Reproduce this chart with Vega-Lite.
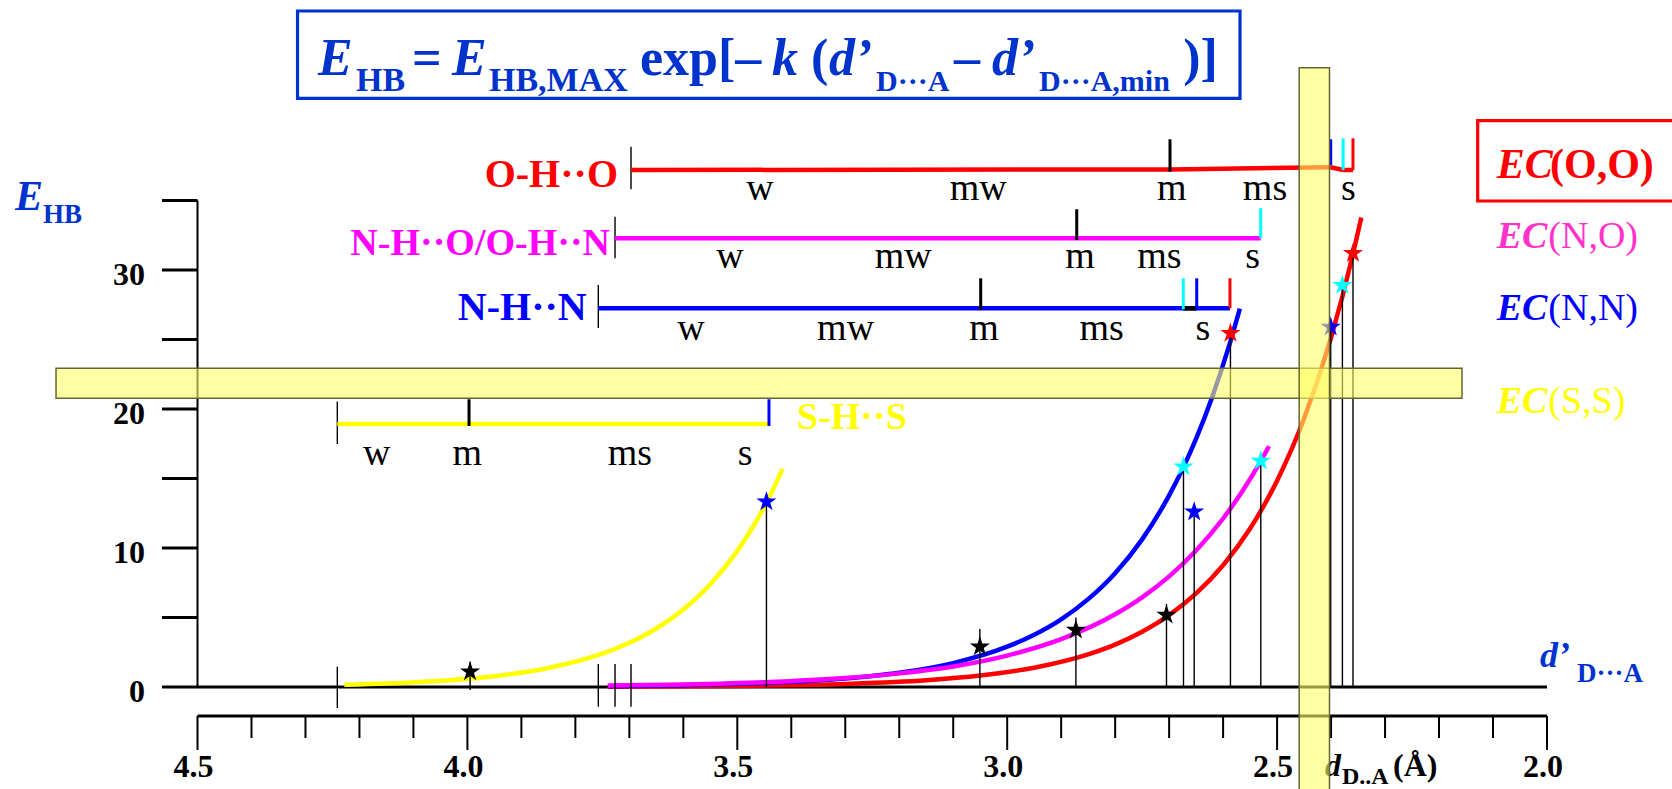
{
  "$schema": "https://vega.github.io/schema/vega-lite/v6.json",
  "width": 1672,
  "height": 789,
  "autosize": {"type": "none"},
  "padding": 0,
  "background": "white",
  "config": {"view": {"stroke": null}, "text": {"font": "'Liberation Serif', 'Times New Roman', 'DejaVu Serif', serif"}},
  "datasets": {
    "curves": [
      {"g":"SS","d":4.228,"e":0.16},{"g":"SS","d":4.15,"e":0.25},{"g":"SS","d":4.05,"e":0.45},{"g":"SS","d":3.95,"e":0.78},{"g":"SS","d":3.85,"e":1.37},{"g":"SS","d":3.75,"e":2.40},{"g":"SS","d":3.70,"e":3.18},{"g":"SS","d":3.65,"e":4.21},{"g":"SS","d":3.60,"e":5.58},{"g":"SS","d":3.55,"e":7.39},{"g":"SS","d":3.50,"e":9.79},{"g":"SS","d":3.47,"e":11.58},{"g":"SS","d":3.445,"e":13.33},{"g":"SS","d":3.416,"e":15.69},
      {"g":"OO","d":3.74,"e":0.02},{"g":"OO","d":3.50,"e":0.08},{"g":"OO","d":3.30,"e":0.22},{"g":"OO","d":3.15,"e":0.48},{"g":"OO","d":3.05,"e":0.82},{"g":"OO","d":2.95,"e":1.39},{"g":"OO","d":2.85,"e":2.35},{"g":"OO","d":2.80,"e":3.05},{"g":"OO","d":2.75,"e":3.97},{"g":"OO","d":2.70,"e":5.17},{"g":"OO","d":2.65,"e":6.73},{"g":"OO","d":2.60,"e":8.76},{"g":"OO","d":2.55,"e":11.40},{"g":"OO","d":2.50,"e":14.84},{"g":"OO","d":2.45,"e":19.31},{"g":"OO","d":2.40,"e":25.14},{"g":"OO","d":2.359,"e":31.2},{"g":"OO","d":2.344,"e":33.77},
      {"g":"NN","d":3.739,"e":0.06},{"g":"NN","d":3.60,"e":0.13},{"g":"NN","d":3.45,"e":0.28},{"g":"NN","d":3.30,"e":0.61},{"g":"NN","d":3.20,"e":1.02},{"g":"NN","d":3.10,"e":1.72},{"g":"NN","d":3.00,"e":2.90},{"g":"NN","d":2.95,"e":3.76},{"g":"NN","d":2.90,"e":4.87},{"g":"NN","d":2.85,"e":6.32},{"g":"NN","d":2.80,"e":8.19},{"g":"NN","d":2.75,"e":10.62},{"g":"NN","d":2.70,"e":13.78},{"g":"NN","d":2.673,"e":15.85},{"g":"NN","d":2.65,"e":17.86},{"g":"NN","d":2.62,"e":20.88},{"g":"NN","d":2.59,"e":24.41},{"g":"NN","d":2.569,"e":27.22},
      {"g":"NO","d":3.74,"e":0.10},{"g":"NO","d":3.60,"e":0.18},{"g":"NO","d":3.45,"e":0.34},{"g":"NO","d":3.30,"e":0.64},{"g":"NO","d":3.20,"e":0.98},{"g":"NO","d":3.10,"e":1.48},{"g":"NO","d":3.00,"e":2.26},{"g":"NO","d":2.90,"e":3.44},{"g":"NO","d":2.80,"e":5.23},{"g":"NO","d":2.75,"e":6.45},{"g":"NO","d":2.70,"e":7.96},{"g":"NO","d":2.65,"e":9.82},{"g":"NO","d":2.60,"e":12.12},{"g":"NO","d":2.565,"e":14.04},{"g":"NO","d":2.53,"e":16.26},{"g":"NO","d":2.515,"e":17.32}
    ],
    "stars": [
      {"g":"X","d":3.995,"e":1.10},{"g":"NN","d":3.446,"e":13.33},{"g":"X","d":3.0506,"e":2.90},{"g":"X","d":2.8727,"e":4.10},{"g":"X","d":2.7049,"e":5.18},{"g":"C","d":2.6734,"e":15.85},{"g":"NN","d":2.6536,"e":12.6},{"g":"OO","d":2.5864,"e":25.45},{"g":"C","d":2.5302,"e":16.26},{"g":"NN","d":2.4007,"e":25.9},{"g":"C","d":2.379,"e":28.9},{"g":"OO","d":2.3594,"e":31.2}
    ],
    "thinRules": [
      {"g":"X","d":3.995,"e":-0.22,"d2":3.995,"e2":1.82},
      {"g":"X","d":3.446,"e":0,"d2":3.446,"e2":13.33},
      {"g":"X","d":3.0506,"e":0,"d2":3.0506,"e2":4.17},
      {"g":"X","d":2.8727,"e":0,"d2":2.8727,"e2":5.0},
      {"g":"X","d":2.7049,"e":0,"d2":2.7049,"e2":5.97},
      {"g":"X","d":2.6734,"e":0,"d2":2.6734,"e2":15.85},
      {"g":"X","d":2.6536,"e":0,"d2":2.6536,"e2":12.6},
      {"g":"X","d":2.5864,"e":0,"d2":2.5864,"e2":25.45},
      {"g":"X","d":2.5302,"e":0,"d2":2.5302,"e2":16.26},
      {"g":"X","d":2.4007,"e":0,"d2":2.4007,"e2":25.9},
      {"g":"X","d":2.379,"e":0,"d2":2.379,"e2":28.9},
      {"g":"X","d":2.3594,"e":0,"d2":2.3594,"e2":31.2},
      {"g":"X","d":4.241,"e":-1.51,"d2":4.241,"e2":1.46},
      {"g":"X","d":3.7575,"e":-1.42,"d2":3.7575,"e2":1.65},
      {"g":"X","d":3.7265,"e":-1.42,"d2":3.7265,"e2":1.65},
      {"g":"X","d":3.6969,"e":-1.42,"d2":3.6969,"e2":1.65},
      {"g":"X","d":3.6969,"e":35.81,"d2":3.6969,"e2":38.87},
      {"g":"X","d":3.7265,"e":30.84,"d2":3.7265,"e2":33.83},
      {"g":"X","d":3.7575,"e":25.83,"d2":3.7575,"e2":28.92},
      {"g":"X","d":4.241,"e":17.48,"d2":4.241,"e2":20.53}
    ],
    "barLines": [
      {"g":"OO","d":3.6969,"e":37.19,"d2":2.6984,"e2":37.23},
      {"g":"OO","d":2.6984,"e":37.23,"d2":2.4007,"e2":37.39},
      {"g":"OO","d":2.4007,"e":37.39,"d2":2.3777,"e2":37.19},
      {"g":"OO","d":2.3777,"e":37.19,"d2":2.3594,"e2":37.19},
      {"g":"NO","d":3.7265,"e":32.28,"d2":2.5304,"e2":32.28},
      {"g":"NN","d":3.7575,"e":27.24,"d2":2.5873,"e2":27.24},
      {"g":"X","d":2.6738,"e":27.24,"d2":2.6489,"e2":27.24},
      {"g":"SS","d":4.241,"e":18.92,"d2":3.4413,"e2":18.92}
    ],
    "tickRules": [
      {"g":"X","d":2.6984,"e":37.07,"d2":2.6984,"e2":39.40},
      {"g":"NN","d":2.4007,"e":37.55,"d2":2.4007,"e2":39.40},
      {"g":"C","d":2.3777,"e":37.19,"d2":2.3777,"e2":39.47},
      {"g":"OO","d":2.3594,"e":37.19,"d2":2.3594,"e2":39.47},
      {"g":"X","d":2.8712,"e":32.16,"d2":2.8712,"e2":34.37},
      {"g":"C","d":2.5304,"e":32.28,"d2":2.5304,"e2":34.44},
      {"g":"X","d":3.0491,"e":27.12,"d2":3.0491,"e2":29.40},
      {"g":"C","d":2.6738,"e":27.17,"d2":2.6738,"e2":29.40},
      {"g":"NN","d":2.6489,"e":27.17,"d2":2.6489,"e2":29.40},
      {"g":"OO","d":2.5873,"e":27.24,"d2":2.5873,"e2":29.40},
      {"g":"X","d":3.997,"e":18.78,"d2":3.997,"e2":20.70},
      {"g":"NN","d":3.4413,"e":18.78,"d2":3.4413,"e2":20.70}
    ],
    "axisThick": [
      {"g":"X","d":4.5658,"e":0,"d2":2.0,"e2":0},
      {"g":"X","d":4.5,"e":-2.086,"d2":2.0,"e2":-2.086},
      {"g":"X","d":4.5658,"e":5,"d2":4.5,"e2":5},
      {"g":"X","d":4.5658,"e":10,"d2":4.5,"e2":10},
      {"g":"X","d":4.5658,"e":15,"d2":4.5,"e2":15},
      {"g":"X","d":4.5658,"e":20,"d2":4.5,"e2":20},
      {"g":"X","d":4.5658,"e":25,"d2":4.5,"e2":25},
      {"g":"X","d":4.5658,"e":30,"d2":4.5,"e2":30},
      {"g":"X","d":4.5658,"e":35,"d2":4.5,"e2":35}
    ],
    "axisThin": [
      {"g":"X","d":4.5,"e":0,"d2":4.5,"e2":35},
      {"g":"X","d":4.5,"e":-2.086,"d2":4.5,"e2":-4.53},
      {"g":"X","d":4.0,"e":-2.086,"d2":4.0,"e2":-4.53},
      {"g":"X","d":3.5,"e":-2.086,"d2":3.5,"e2":-4.53},
      {"g":"X","d":3.0,"e":-2.086,"d2":3.0,"e2":-4.53},
      {"g":"X","d":2.5,"e":-2.086,"d2":2.5,"e2":-4.53},
      {"g":"X","d":2.0,"e":-2.086,"d2":2.0,"e2":-4.53},
      {"g":"X","d":4.4,"e":-2.086,"d2":4.4,"e2":-3.67},
      {"g":"X","d":4.3,"e":-2.086,"d2":4.3,"e2":-3.67},
      {"g":"X","d":4.2,"e":-2.086,"d2":4.2,"e2":-3.67},
      {"g":"X","d":4.1,"e":-2.086,"d2":4.1,"e2":-3.67},
      {"g":"X","d":3.9,"e":-2.086,"d2":3.9,"e2":-3.67},
      {"g":"X","d":3.8,"e":-2.086,"d2":3.8,"e2":-3.67},
      {"g":"X","d":3.7,"e":-2.086,"d2":3.7,"e2":-3.67},
      {"g":"X","d":3.6,"e":-2.086,"d2":3.6,"e2":-3.67},
      {"g":"X","d":3.4,"e":-2.086,"d2":3.4,"e2":-3.67},
      {"g":"X","d":3.3,"e":-2.086,"d2":3.3,"e2":-3.67},
      {"g":"X","d":3.2,"e":-2.086,"d2":3.2,"e2":-3.67},
      {"g":"X","d":3.1,"e":-2.086,"d2":3.1,"e2":-3.67},
      {"g":"X","d":2.9,"e":-2.086,"d2":2.9,"e2":-3.67},
      {"g":"X","d":2.8,"e":-2.086,"d2":2.8,"e2":-3.67},
      {"g":"X","d":2.7,"e":-2.086,"d2":2.7,"e2":-3.67},
      {"g":"X","d":2.6,"e":-2.086,"d2":2.6,"e2":-3.67},
      {"g":"X","d":2.4,"e":-2.086,"d2":2.4,"e2":-3.67},
      {"g":"X","d":2.3,"e":-2.086,"d2":2.3,"e2":-3.67},
      {"g":"X","d":2.2,"e":-2.086,"d2":2.2,"e2":-3.67},
      {"g":"X","d":2.1,"e":-2.086,"d2":2.1,"e2":-3.67}
    ],
    "boxes": [
      {"g":"F","d":4.3147,"e":48.63,"d2":2.5687,"e2":42.34},
      {"g":"OO","d":2.1284,"e":40.74,"d2":1.70,"e2":34.96}
    ],
    "bands": [
      {"d":4.7621,"e":22.93,"d2":2.1574,"e2":20.77},
      {"d":2.4591,"e":44.55,"d2":2.4029,"e2":-8}
    ],
    "tBI52": [
      {"g":"F","t":"E","d":4.2768,"e":44.03},
      {"g":"F","t":"E","d":4.0285,"e":44.03},
      {"g":"F","t":"k","d":3.4357,"e":44.03},
      {"g":"F","t":"d’","d":3.3301,"e":44.03},
      {"g":"F","t":"d’","d":3.0282,"e":44.03}
    ],
    "tB52": [
      {"g":"F","t":"=","d":4.1026,"e":44.03},
      {"g":"F","t":"exp[–","d":3.6803,"e":44.03},
      {"g":"F","t":"(","d":3.3635,"e":44.03},
      {"g":"F","t":"–","d":3.0984,"e":44.03},
      {"g":"F","t":")]","d":2.674,"e":44.03}
    ],
    "tB34": [
      {"g":"F","t":"HB","d":4.2064,"e":42.90},
      {"g":"F","t":"HB,MAX","d":3.960,"e":42.90}
    ],
    "tB30": [
      {"g":"F","t":"D···A","d":3.2430,"e":42.90},
      {"g":"F","t":"D···A,min","d":2.9411,"e":42.90}
    ],
    "tEhbE": [{"g":"F","t":"E","d":4.8381,"e":34.32}],
    "tEhbSub": [{"g":"F","t":"HB","d":4.7862,"e":33.38}],
    "tDprime": [{"g":"F","t":"d’","d":2.013,"e":1.46}],
    "tDprimeSub": [{"g":"F","t":"D···A","d":1.9444,"e":0.38}],
    "tXd": [{"g":"X","t":"d","d":2.4113,"e":-6.40}],
    "tXsub": [{"g":"X","t":"D..A","d":2.3798,"e":-7.0}],
    "tB32L": [{"g":"X","t":"(Å)","d":2.2853,"e":-6.40}],
    "tEC42": [{"g":"OO","t":"EC","d":2.0932,"e":36.60}],
    "tOO": [{"g":"OO","t":"(O,O)","d":1.9944,"e":36.60}],
    "tEC38": [
      {"g":"NOL","t":"EC","d":2.0932,"e":31.56},
      {"g":"NN","t":"EC","d":2.0932,"e":26.40},
      {"g":"SS","t":"EC","d":2.0932,"e":19.69}
    ],
    "tR38L": [
      {"g":"NOL","t":"(N,O)","d":1.9976,"e":31.56},
      {"g":"NN","t":"(N,N)","d":1.9976,"e":26.40},
      {"g":"SS","t":"(S,S)","d":1.9976,"e":19.69}
    ],
    "tBar40R": [
      {"g":"OO","t":"O-H··O","d":3.721,"e":35.99},
      {"g":"NN","t":"N-H··N","d":3.779,"e":26.40}
    ],
    "tBar38R": [{"g":"NO","t":"N-H··O/O-H··N","d":3.7358,"e":31.08}],
    "tBar38L": [{"g":"SS","t":"S-H··S","d":3.3894,"e":18.56}],
    "tStrength": [
      {"g":"X","t":"w","d":3.4579,"e":35.04},{"g":"X","t":"mw","d":3.0535,"e":35.04},{"g":"X","t":"m","d":2.6953,"e":35.04},{"g":"X","t":"ms","d":2.5224,"e":35.04},{"g":"X","t":"s","d":2.3681,"e":35.04},
      {"g":"X","t":"w","d":3.5135,"e":30.12},{"g":"X","t":"mw","d":3.1925,"e":30.12},{"g":"X","t":"m","d":2.8651,"e":30.12},{"g":"X","t":"ms","d":2.7182,"e":30.12},{"g":"X","t":"s","d":2.5452,"e":30.12},
      {"g":"X","t":"w","d":3.5858,"e":24.96},{"g":"X","t":"mw","d":3.2994,"e":24.96},{"g":"X","t":"m","d":3.043,"e":24.96},{"g":"X","t":"ms","d":2.8249,"e":24.96},{"g":"X","t":"s","d":2.6373,"e":24.96},
      {"g":"X","t":"w","d":4.168,"e":15.97},{"g":"X","t":"m","d":4.0002,"e":15.97},{"g":"X","t":"ms","d":3.6988,"e":15.97},{"g":"X","t":"s","d":3.4857,"e":15.97}
    ],
    "tYlab": [
      {"g":"X","t":"0","d":4.5973,"e":-1.05},
      {"g":"X","t":"10","d":4.5973,"e":8.95},
      {"g":"X","t":"20","d":4.5973,"e":18.95},
      {"g":"X","t":"30","d":4.5973,"e":28.95}
    ],
    "tXlab": [
      {"g":"X","t":"4.5","d":4.5074,"e":-6.47},
      {"g":"X","t":"4.0","d":4.0074,"e":-6.47},
      {"g":"X","t":"3.5","d":3.5074,"e":-6.47},
      {"g":"X","t":"3.0","d":3.0074,"e":-6.47},
      {"g":"X","t":"2.5","d":2.5074,"e":-6.47},
      {"g":"X","t":"2.0","d":2.0074,"e":-6.47}
    ]
  },
  "encoding": {
    "x": {"field": "d", "type": "quantitative", "scale": {"domain": [4.8659, 1.7684], "nice": false, "zero": false}, "axis": null},
    "y": {"field": "e", "type": "quantitative", "scale": {"domain": [-7.338, 49.42], "nice": false, "zero": false}, "axis": null}
  },
  "layer": [
    {
      "data": {"name": "axisThick"},
      "mark": {"type": "rule", "strokeWidth": 3},
      "encoding": {"x2": {"field": "d2"}, "y2": {"field": "e2"}, "color": {"field": "g", "type": "nominal", "legend": null, "scale": {"domain": ["OO","NO","NN","SS","X","C","F","NOL"], "range": ["#ff0000","#ff00ff","#0000ff","#ffff00","#000000","#00ffff","#0033cc","#ff33cc"]}}}
    },
    {
      "data": {"name": "axisThin"},
      "mark": {"type": "rule", "strokeWidth": 2},
      "encoding": {"x2": {"field": "d2"}, "y2": {"field": "e2"}, "color": {"field": "g", "type": "nominal", "legend": null, "scale": {"domain": ["OO","NO","NN","SS","X","C","F","NOL"], "range": ["#ff0000","#ff00ff","#0000ff","#ffff00","#000000","#00ffff","#0033cc","#ff33cc"]}}}
    },
    {
      "data": {"name": "curves"},
      "mark": {"type": "line", "strokeWidth": 4.5, "interpolate": "monotone"},
      "encoding": {"detail": {"field": "g"}, "order": {"field": "d", "type": "quantitative", "sort": "descending"}, "color": {"field": "g", "type": "nominal", "legend": null, "scale": {"domain": ["OO","NO","NN","SS","X","C","F","NOL"], "range": ["#ff0000","#ff00ff","#0000ff","#ffff00","#000000","#00ffff","#0033cc","#ff33cc"]}}}
    },
    {
      "data": {"name": "thinRules"},
      "mark": {"type": "rule", "strokeWidth": 1.4},
      "encoding": {"x2": {"field": "d2"}, "y2": {"field": "e2"}, "color": {"field": "g", "type": "nominal", "legend": null, "scale": {"domain": ["OO","NO","NN","SS","X","C","F","NOL"], "range": ["#ff0000","#ff00ff","#0000ff","#ffff00","#000000","#00ffff","#0033cc","#ff33cc"]}}}
    },
    {
      "data": {"name": "barLines"},
      "mark": {"type": "rule", "strokeWidth": 4.5},
      "encoding": {"x2": {"field": "d2"}, "y2": {"field": "e2"}, "color": {"field": "g", "type": "nominal", "legend": null, "scale": {"domain": ["OO","NO","NN","SS","X","C","F","NOL"], "range": ["#ff0000","#ff00ff","#0000ff","#ffff00","#000000","#00ffff","#0033cc","#ff33cc"]}}}
    },
    {
      "data": {"name": "tickRules"},
      "mark": {"type": "rule", "strokeWidth": 3},
      "encoding": {"x2": {"field": "d2"}, "y2": {"field": "e2"}, "color": {"field": "g", "type": "nominal", "legend": null, "scale": {"domain": ["OO","NO","NN","SS","X","C","F","NOL"], "range": ["#ff0000","#ff00ff","#0000ff","#ffff00","#000000","#00ffff","#0033cc","#ff33cc"]}}}
    },
    {
      "data": {"name": "stars"},
      "mark": {"type": "point", "shape": "M0,-1L0.2245,-0.309L0.951,-0.309L0.363,0.118L0.588,0.809L0,0.382L-0.588,0.809L-0.363,0.118L-0.951,-0.309L-0.2245,-0.309Z", "size": 450, "filled": true, "opacity": 1},
      "encoding": {"color": {"field": "g", "type": "nominal", "legend": null, "scale": {"domain": ["OO","NO","NN","SS","X","C","F","NOL"], "range": ["#ff0000","#ff00ff","#0000ff","#ffff00","#000000","#00ffff","#0033cc","#ff33cc"]}}}
    },
    {
      "data": {"name": "boxes"},
      "mark": {"type": "rect", "filled": false, "strokeWidth": 3.2},
      "encoding": {"x2": {"field": "d2"}, "y2": {"field": "e2"}, "color": {"field": "g", "type": "nominal", "legend": null, "scale": {"domain": ["OO","NO","NN","SS","X","C","F","NOL"], "range": ["#ff0000","#ff00ff","#0000ff","#ffff00","#000000","#00ffff","#0033cc","#ff33cc"]}}}
    },
    {
      "data": {"name": "tBI52"},
      "mark": {"type": "text", "fontSize": 52, "fontWeight": "bold", "fontStyle": "italic", "align": "left", "baseline": "alphabetic"},
      "encoding": {"text": {"field": "t"}, "color": {"field": "g", "type": "nominal", "legend": null, "scale": {"domain": ["OO","NO","NN","SS","X","C","F","NOL"], "range": ["#ff0000","#ff00ff","#0000ff","#ffff00","#000000","#00ffff","#0033cc","#ff33cc"]}}}
    },
    {
      "data": {"name": "tB52"},
      "mark": {"type": "text", "fontSize": 52, "fontWeight": "bold", "align": "left", "baseline": "alphabetic"},
      "encoding": {"text": {"field": "t"}, "color": {"field": "g", "type": "nominal", "legend": null, "scale": {"domain": ["OO","NO","NN","SS","X","C","F","NOL"], "range": ["#ff0000","#ff00ff","#0000ff","#ffff00","#000000","#00ffff","#0033cc","#ff33cc"]}}}
    },
    {
      "data": {"name": "tB34"},
      "mark": {"type": "text", "fontSize": 34, "fontWeight": "bold", "align": "left", "baseline": "alphabetic"},
      "encoding": {"text": {"field": "t"}, "color": {"field": "g", "type": "nominal", "legend": null, "scale": {"domain": ["OO","NO","NN","SS","X","C","F","NOL"], "range": ["#ff0000","#ff00ff","#0000ff","#ffff00","#000000","#00ffff","#0033cc","#ff33cc"]}}}
    },
    {
      "data": {"name": "tB30"},
      "mark": {"type": "text", "fontSize": 30, "fontWeight": "bold", "align": "left", "baseline": "alphabetic"},
      "encoding": {"text": {"field": "t"}, "color": {"field": "g", "type": "nominal", "legend": null, "scale": {"domain": ["OO","NO","NN","SS","X","C","F","NOL"], "range": ["#ff0000","#ff00ff","#0000ff","#ffff00","#000000","#00ffff","#0033cc","#ff33cc"]}}}
    },
    {
      "data": {"name": "tEhbE"},
      "mark": {"type": "text", "fontSize": 42, "fontWeight": "bold", "fontStyle": "italic", "align": "left", "baseline": "alphabetic"},
      "encoding": {"text": {"field": "t"}, "color": {"field": "g", "type": "nominal", "legend": null, "scale": {"domain": ["OO","NO","NN","SS","X","C","F","NOL"], "range": ["#ff0000","#ff00ff","#0000ff","#ffff00","#000000","#00ffff","#0033cc","#ff33cc"]}}}
    },
    {
      "data": {"name": "tEhbSub"},
      "mark": {"type": "text", "fontSize": 27, "fontWeight": "bold", "align": "left", "baseline": "alphabetic"},
      "encoding": {"text": {"field": "t"}, "color": {"field": "g", "type": "nominal", "legend": null, "scale": {"domain": ["OO","NO","NN","SS","X","C","F","NOL"], "range": ["#ff0000","#ff00ff","#0000ff","#ffff00","#000000","#00ffff","#0033cc","#ff33cc"]}}}
    },
    {
      "data": {"name": "tDprime"},
      "mark": {"type": "text", "fontSize": 36, "fontWeight": "bold", "fontStyle": "italic", "align": "left", "baseline": "alphabetic"},
      "encoding": {"text": {"field": "t"}, "color": {"field": "g", "type": "nominal", "legend": null, "scale": {"domain": ["OO","NO","NN","SS","X","C","F","NOL"], "range": ["#ff0000","#ff00ff","#0000ff","#ffff00","#000000","#00ffff","#0033cc","#ff33cc"]}}}
    },
    {
      "data": {"name": "tDprimeSub"},
      "mark": {"type": "text", "fontSize": 27, "fontWeight": "bold", "align": "left", "baseline": "alphabetic"},
      "encoding": {"text": {"field": "t"}, "color": {"field": "g", "type": "nominal", "legend": null, "scale": {"domain": ["OO","NO","NN","SS","X","C","F","NOL"], "range": ["#ff0000","#ff00ff","#0000ff","#ffff00","#000000","#00ffff","#0033cc","#ff33cc"]}}}
    },
    {
      "data": {"name": "tXd"},
      "mark": {"type": "text", "fontSize": 32, "fontWeight": "bold", "fontStyle": "italic", "align": "left", "baseline": "alphabetic"},
      "encoding": {"text": {"field": "t"}, "color": {"field": "g", "type": "nominal", "legend": null, "scale": {"domain": ["OO","NO","NN","SS","X","C","F","NOL"], "range": ["#ff0000","#ff00ff","#0000ff","#ffff00","#000000","#00ffff","#0033cc","#ff33cc"]}}}
    },
    {
      "data": {"name": "tXsub"},
      "mark": {"type": "text", "fontSize": 24, "fontWeight": "bold", "align": "left", "baseline": "alphabetic"},
      "encoding": {"text": {"field": "t"}, "color": {"field": "g", "type": "nominal", "legend": null, "scale": {"domain": ["OO","NO","NN","SS","X","C","F","NOL"], "range": ["#ff0000","#ff00ff","#0000ff","#ffff00","#000000","#00ffff","#0033cc","#ff33cc"]}}}
    },
    {
      "data": {"name": "tB32L"},
      "mark": {"type": "text", "fontSize": 32, "fontWeight": "bold", "align": "left", "baseline": "alphabetic"},
      "encoding": {"text": {"field": "t"}, "color": {"field": "g", "type": "nominal", "legend": null, "scale": {"domain": ["OO","NO","NN","SS","X","C","F","NOL"], "range": ["#ff0000","#ff00ff","#0000ff","#ffff00","#000000","#00ffff","#0033cc","#ff33cc"]}}}
    },
    {
      "data": {"name": "tEC42"},
      "mark": {"type": "text", "fontSize": 42, "fontWeight": "bold", "fontStyle": "italic", "align": "left", "baseline": "alphabetic"},
      "encoding": {"text": {"field": "t"}, "color": {"field": "g", "type": "nominal", "legend": null, "scale": {"domain": ["OO","NO","NN","SS","X","C","F","NOL"], "range": ["#ff0000","#ff00ff","#0000ff","#ffff00","#000000","#00ffff","#0033cc","#ff33cc"]}}}
    },
    {
      "data": {"name": "tOO"},
      "mark": {"type": "text", "fontSize": 42, "fontWeight": "bold", "align": "left", "baseline": "alphabetic"},
      "encoding": {"text": {"field": "t"}, "color": {"field": "g", "type": "nominal", "legend": null, "scale": {"domain": ["OO","NO","NN","SS","X","C","F","NOL"], "range": ["#ff0000","#ff00ff","#0000ff","#ffff00","#000000","#00ffff","#0033cc","#ff33cc"]}}}
    },
    {
      "data": {"name": "tEC38"},
      "mark": {"type": "text", "fontSize": 38, "fontWeight": "bold", "fontStyle": "italic", "align": "left", "baseline": "alphabetic"},
      "encoding": {"text": {"field": "t"}, "color": {"field": "g", "type": "nominal", "legend": null, "scale": {"domain": ["OO","NO","NN","SS","X","C","F","NOL"], "range": ["#ff0000","#ff00ff","#0000ff","#ffff00","#000000","#00ffff","#0033cc","#ff33cc"]}}}
    },
    {
      "data": {"name": "tR38L"},
      "mark": {"type": "text", "fontSize": 38, "align": "left", "baseline": "alphabetic"},
      "encoding": {"text": {"field": "t"}, "color": {"field": "g", "type": "nominal", "legend": null, "scale": {"domain": ["OO","NO","NN","SS","X","C","F","NOL"], "range": ["#ff0000","#ff00ff","#0000ff","#ffff00","#000000","#00ffff","#0033cc","#ff33cc"]}}}
    },
    {
      "data": {"name": "tBar40R"},
      "mark": {"type": "text", "fontSize": 40, "fontWeight": "bold", "align": "right", "baseline": "alphabetic"},
      "encoding": {"text": {"field": "t"}, "color": {"field": "g", "type": "nominal", "legend": null, "scale": {"domain": ["OO","NO","NN","SS","X","C","F","NOL"], "range": ["#ff0000","#ff00ff","#0000ff","#ffff00","#000000","#00ffff","#0033cc","#ff33cc"]}}}
    },
    {
      "data": {"name": "tBar38R"},
      "mark": {"type": "text", "fontSize": 38, "fontWeight": "bold", "align": "right", "baseline": "alphabetic"},
      "encoding": {"text": {"field": "t"}, "color": {"field": "g", "type": "nominal", "legend": null, "scale": {"domain": ["OO","NO","NN","SS","X","C","F","NOL"], "range": ["#ff0000","#ff00ff","#0000ff","#ffff00","#000000","#00ffff","#0033cc","#ff33cc"]}}}
    },
    {
      "data": {"name": "tBar38L"},
      "mark": {"type": "text", "fontSize": 38, "fontWeight": "bold", "align": "left", "baseline": "alphabetic"},
      "encoding": {"text": {"field": "t"}, "color": {"field": "g", "type": "nominal", "legend": null, "scale": {"domain": ["OO","NO","NN","SS","X","C","F","NOL"], "range": ["#ff0000","#ff00ff","#0000ff","#ffff00","#000000","#00ffff","#0033cc","#ff33cc"]}}}
    },
    {
      "data": {"name": "tStrength"},
      "mark": {"type": "text", "fontSize": 38, "align": "center", "baseline": "alphabetic"},
      "encoding": {"text": {"field": "t"}, "color": {"field": "g", "type": "nominal", "legend": null, "scale": {"domain": ["OO","NO","NN","SS","X","C","F","NOL"], "range": ["#ff0000","#ff00ff","#0000ff","#ffff00","#000000","#00ffff","#0033cc","#ff33cc"]}}}
    },
    {
      "data": {"name": "tYlab"},
      "mark": {"type": "text", "fontSize": 32, "fontWeight": "bold", "align": "right", "baseline": "alphabetic"},
      "encoding": {"text": {"field": "t"}, "color": {"field": "g", "type": "nominal", "legend": null, "scale": {"domain": ["OO","NO","NN","SS","X","C","F","NOL"], "range": ["#ff0000","#ff00ff","#0000ff","#ffff00","#000000","#00ffff","#0033cc","#ff33cc"]}}}
    },
    {
      "data": {"name": "tXlab"},
      "mark": {"type": "text", "fontSize": 32, "fontWeight": "bold", "align": "center", "baseline": "alphabetic"},
      "encoding": {"text": {"field": "t"}, "color": {"field": "g", "type": "nominal", "legend": null, "scale": {"domain": ["OO","NO","NN","SS","X","C","F","NOL"], "range": ["#ff0000","#ff00ff","#0000ff","#ffff00","#000000","#00ffff","#0033cc","#ff33cc"]}}}
    },
    {
      "data": {"name": "bands"},
      "mark": {"type": "rect", "fill": "#ffff66", "fillOpacity": 0.6, "stroke": "#666633", "strokeWidth": 1.5},
      "encoding": {"x2": {"field": "d2"}, "y2": {"field": "e2"}}
    }
  ]
}
